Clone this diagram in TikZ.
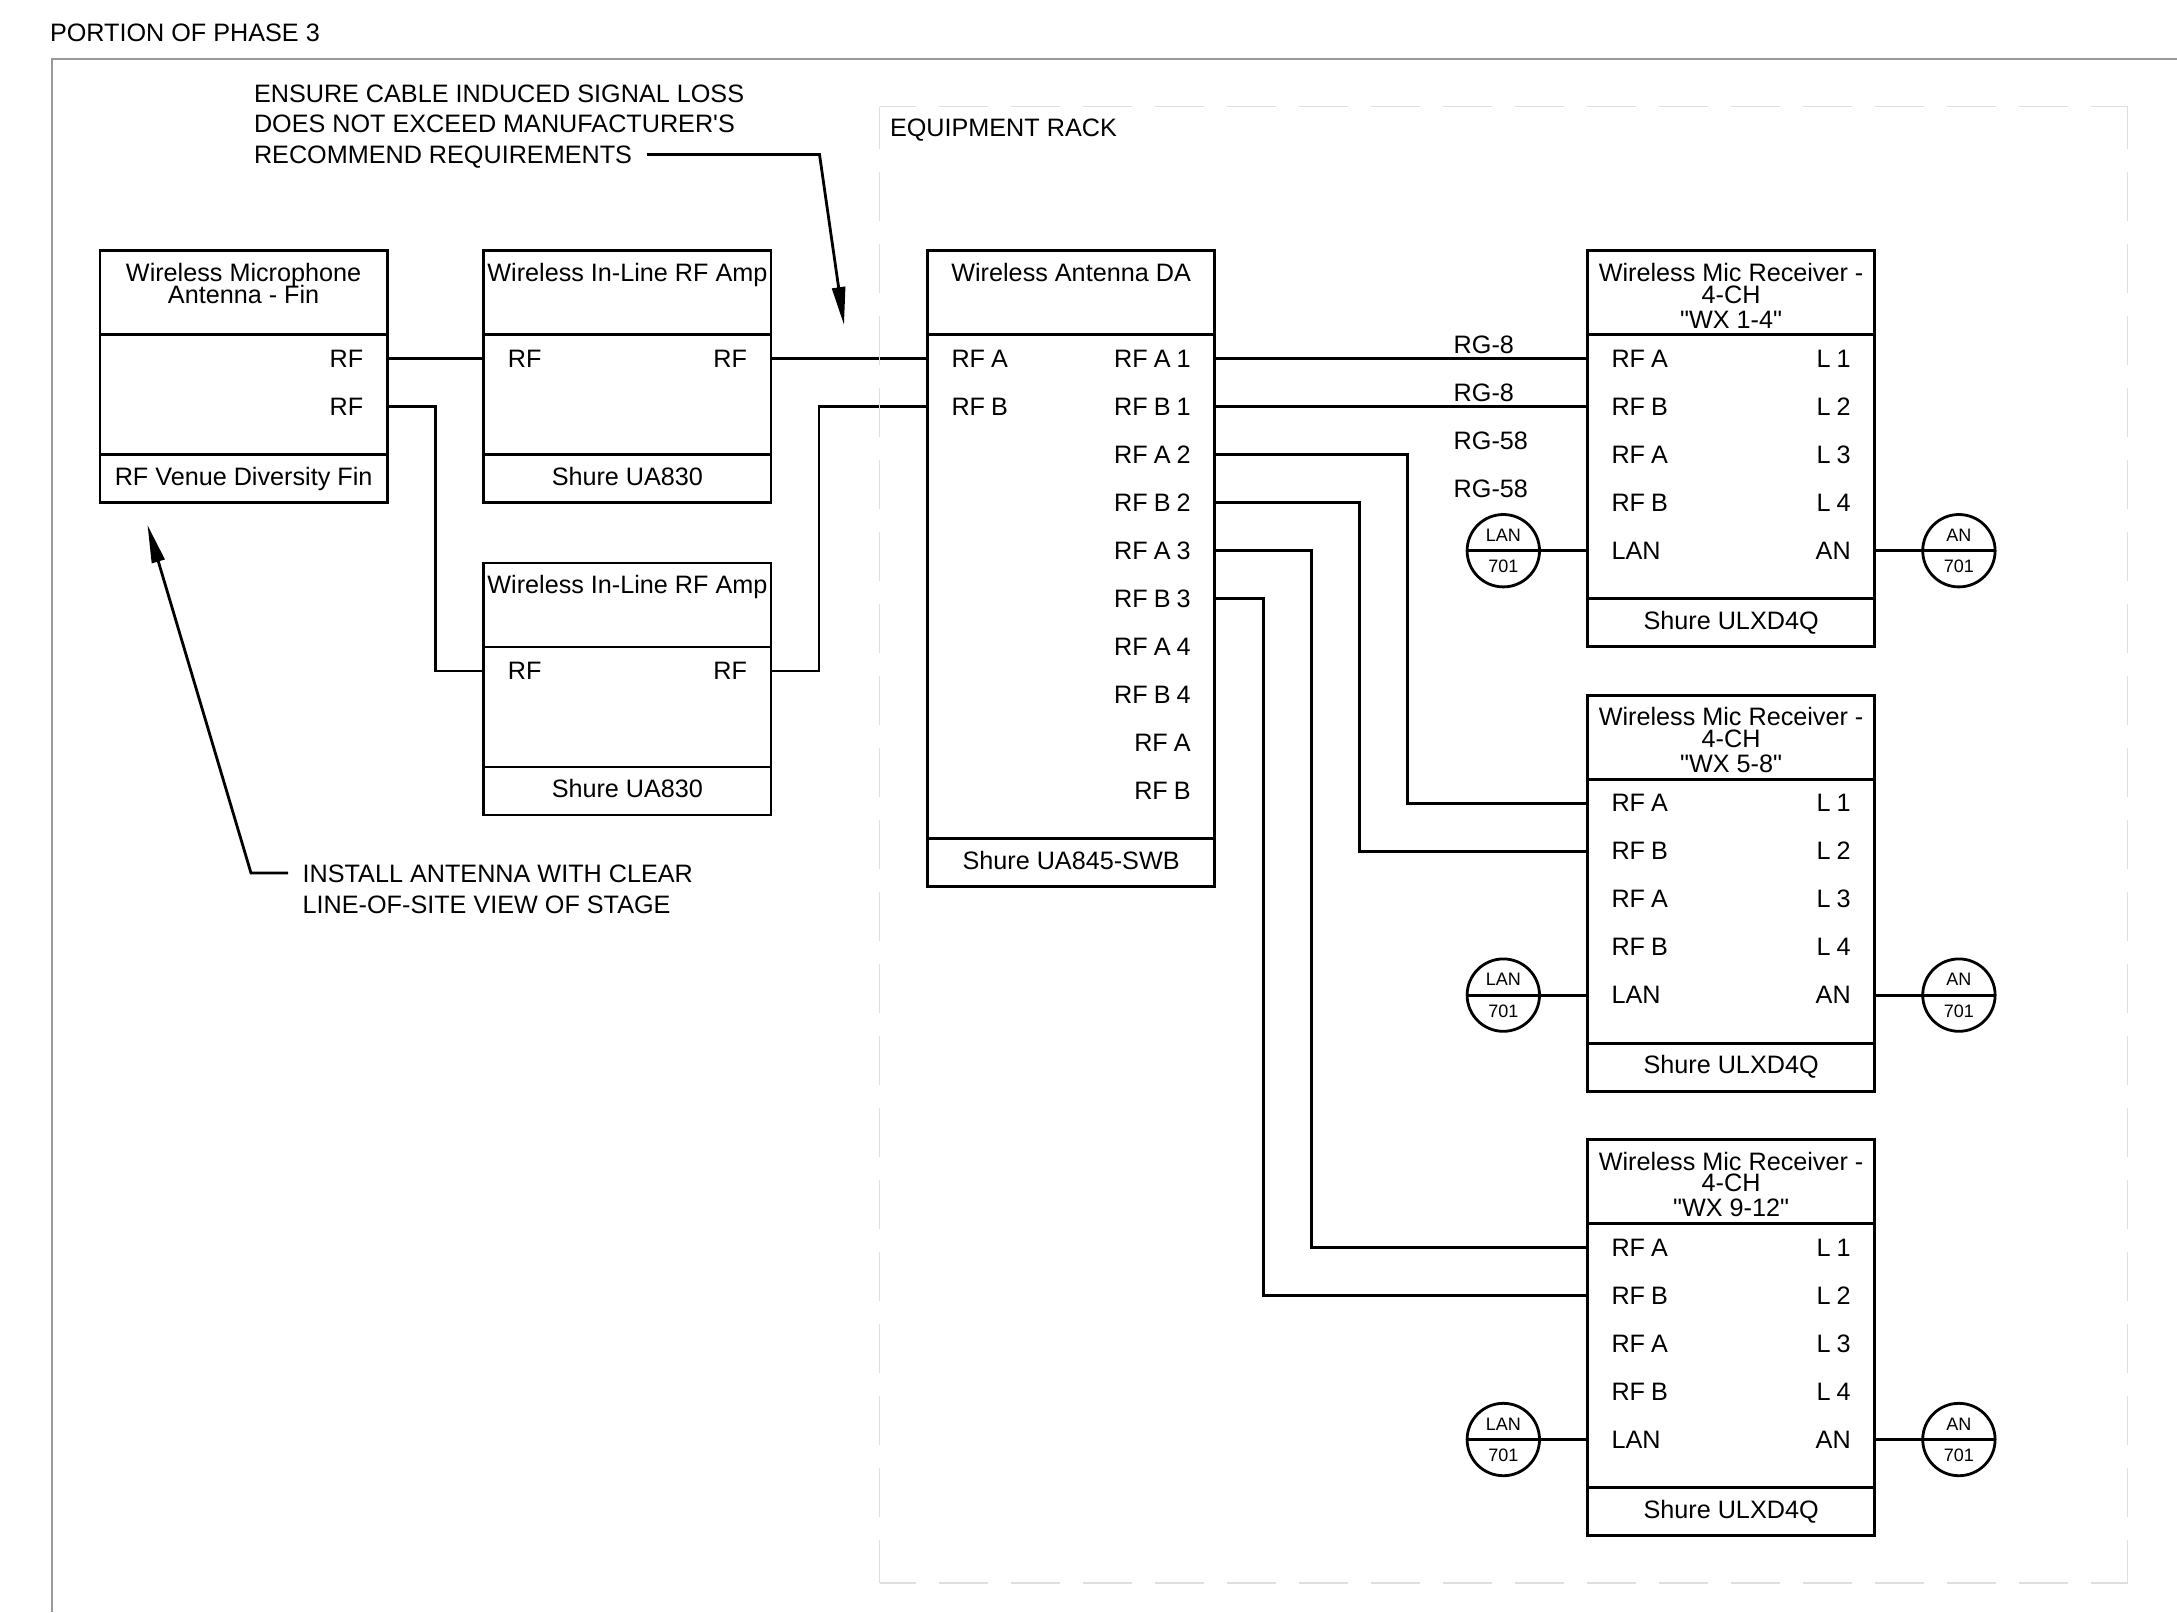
\documentclass[tikz,border=0pt]{standalone}
\usepackage{fontspec}
\newfontfamily\wiringfont{Liberation Sans}
\usetikzlibrary{arrows.meta, positioning}

\begin{document}
\begin{tikzpicture}[x=0.5pt, y=-0.5pt, node distance=0pt,
    font=\wiringfont\fontsize{12.6pt}{10.85pt}\selectfont,
    box/.style={rectangle, draw, line width=1.4pt, minimum width=143.6pt, inner sep=0pt, outer sep=0pt},
    headbox/.style={box, minimum height=42pt},
    bodybox/.style={box, minimum height=#1},
    footbox/.style={box, minimum height=24pt, text height=9.5pt, text depth=2.7pt},
    title/.style={inner sep=0pt, outer sep=0pt, align=center, execute at begin node={\lineskiplimit=-100pt}},
    portl/.style={inner sep=0pt, outer sep=0pt, minimum height=24pt, text width=60pt, align=left, execute at begin node={\spaceskip=.24em}},
    portr/.style={inner sep=0pt, outer sep=0pt, minimum height=24pt, text width=60pt, align=right, execute at begin node={\spaceskip=.24em}},
    cable/.style={inner sep=0pt, outer sep=0pt, minimum height=24pt, text width=40pt, align=left},
    tagcircle/.style={circle, draw, line width=1.4pt, minimum size=36.2pt, inner sep=0pt, outer sep=0pt},
    tag/.style={inner sep=0pt, font=\wiringfont\fontsize{9pt}{11pt}\selectfont},
    note/.style={inner sep=0pt, outer sep=0pt, align=left, font=\wiringfont\fontsize{12.6pt}{15.35pt}\selectfont},
    wire/.style={line width=1.4pt},
    arrow/.style={line width=1.4pt, -{Triangle[length=19pt, width=6.5pt]}},
    frameline/.style={draw=black!40, line width=1pt},
    rackbox/.style={rectangle, inner sep=0pt, outer sep=0pt, minimum width=624pt, minimum height=738.4pt},
    rackh/.style={draw=black!13, line width=0.9pt, dash pattern=on 24.5pt off 11.5pt, dash phase=6.15pt},
    rackv/.style={draw=black!13, line width=0.9pt, dash pattern=on 24.5pt off 11.5pt, dash phase=3.2pt}]
\useasboundingbox (0,0) rectangle (2177,1612);
\draw [frameline] (52,1612) -- (52,58.6) -- (2177,58.6);
\node (phase) [note, anchor=west] at (50,32.5) {PORTION OF PHASE 3};
\node (rack) [rackbox, anchor=north west] at (879.5,106.5) {};
\node (racklabel) [note, anchor=west] at (890,130.5) {EQUIPMENT RACK};

\node (finhead) [headbox, anchor=north west] at (100,250.7) {};
\node (finbody) [bodybox=60pt, below=of finhead] {};
\node (finfoot) [footbox, below=of finbody] {RF Venue Diversity Fin};
\node (fintitle) [title, below=6.2pt of finhead.north] {Wireless Microphone\\Antenna - Fin};
\node (finrfa) [portr, below left=0pt and 12pt of finbody.north east] {RF};
\node (finrfb) [portr, below=of finrfa] {RF};

\node (ampheada) [headbox, right=48.3pt of finhead] {};
\node (ampbodya) [bodybox=60pt, below=of ampheada] {};
\node (ampfoota) [footbox, below=of ampbodya] {Shure UA830};
\node (amptitlea) [title, below=6.2pt of ampheada.north] {Wireless In-Line RF Amp};
\node (ampina) [portl, below right=0pt and 12pt of ampbodya.north west] {RF};
\node (ampouta) [portr, below left=0pt and 12pt of ampbodya.north east] {RF};

\node (ampheadb) [headbox, below=30.1pt of ampfoota] {};
\node (ampbodyb) [bodybox=60pt, below=of ampheadb] {};
\node (ampfootb) [footbox, below=of ampbodyb] {Shure UA830};
\node (amptitleb) [title, below=6.2pt of ampheadb.north] {Wireless In-Line RF Amp};
\node (ampinb) [portl, below right=0pt and 12pt of ampbodyb.north west] {RF};
\node (ampoutb) [portr, below left=0pt and 12pt of ampbodyb.north east] {RF};

\node (dahead) [headbox, right=78.25pt of ampheada] {};
\node (dabody) [bodybox=252pt, below=of dahead] {};
\node (dafoot) [footbox, below=of dabody] {Shure UA845-SWB};
\node (datitle) [title, below=6.2pt of dahead.north] {Wireless Antenna DA};
\node (dain) [portl, below right=0pt and 12pt of dabody.north west] {RF A};
\node (dainb) [portl, below=of dain] {RF B};
\node (daa) [portr, below left=0pt and 12pt of dabody.north east] {RF A 1};
\node (dab) [portr, below=of daa] {RF B 1};
\node (dac) [portr, below=of dab] {RF A 2};
\node (dad) [portr, below=of dac] {RF B 2};
\node (dae) [portr, below=of dad] {RF A 3};
\node (daf) [portr, below=of dae] {RF B 3};
\node (dag) [portr, below=of daf] {RF A 4};
\node (dah) [portr, below=of dag] {RF B 4};
\node (dai) [portr, below=of dah] {RF A};
\node (daj) [portr, below=of dai] {RF B};

\node (rxheada) [headbox, right=186.4pt of dahead] {};
\node (rxbodya) [bodybox=132pt, below=of rxheada] {};
\node (rxfoota) [footbox, below=of rxbodya] {Shure ULXD4Q};
\node (rxtitlea) [title, below=6.2pt of rxheada.north] {Wireless Mic Receiver -\\4-CH\\[1.65pt]"WX 1-4"};
\node (rxaa) [portl, below right=0pt and 12pt of rxbodya.north west] {RF A};
\node (rxab) [portl, below=of rxaa] {RF B};
\node (rxac) [portl, below=of rxab] {RF A};
\node (rxad) [portl, below=of rxac] {RF B};
\node (rxalan) [portl, below=of rxad] {LAN};
\node (rxal) [portr, below left=0pt and 12pt of rxbodya.north east] {L 1};
\node (rxam) [portr, below=of rxal] {L 2};
\node (rxan) [portr, below=of rxam] {L 3};
\node (rxao) [portr, below=of rxan] {L 4};
\node (rxaan) [portr, below=of rxao] {AN};

\node (rxheadb) [headbox, below=24.2pt of rxfoota] {};
\node (rxbodyb) [bodybox=132pt, below=of rxheadb] {};
\node (rxfootb) [footbox, below=of rxbodyb] {Shure ULXD4Q};
\node (rxtitleb) [title, below=6.2pt of rxheadb.north] {Wireless Mic Receiver -\\4-CH\\[1.65pt]"WX 5-8"};
\node (rxba) [portl, below right=0pt and 12pt of rxbodyb.north west] {RF A};
\node (rxbb) [portl, below=of rxba] {RF B};
\node (rxbc) [portl, below=of rxbb] {RF A};
\node (rxbd) [portl, below=of rxbc] {RF B};
\node (rxblan) [portl, below=of rxbd] {LAN};
\node (rxbl) [portr, below left=0pt and 12pt of rxbodyb.north east] {L 1};
\node (rxbm) [portr, below=of rxbl] {L 2};
\node (rxbn) [portr, below=of rxbm] {L 3};
\node (rxbo) [portr, below=of rxbn] {L 4};
\node (rxban) [portr, below=of rxbo] {AN};

\node (rxheadc) [headbox, below=24.2pt of rxfootb] {};
\node (rxbodyc) [bodybox=132pt, below=of rxheadc] {};
\node (rxfootc) [footbox, below=of rxbodyc] {Shure ULXD4Q};
\node (rxtitlec) [title, below=6.2pt of rxheadc.north] {Wireless Mic Receiver -\\4-CH\\[1.65pt]"WX 9-12"};
\node (rxca) [portl, below right=0pt and 12pt of rxbodyc.north west] {RF A};
\node (rxcb) [portl, below=of rxca] {RF B};
\node (rxcc) [portl, below=of rxcb] {RF A};
\node (rxcd) [portl, below=of rxcc] {RF B};
\node (rxclan) [portl, below=of rxcd] {LAN};
\node (rxcl) [portr, below left=0pt and 12pt of rxbodyc.north east] {L 1};
\node (rxcm) [portr, below=of rxcl] {L 2};
\node (rxcn) [portr, below=of rxcm] {L 3};
\node (rxco) [portr, below=of rxcn] {L 4};
\node (rxcan) [portr, below=of rxco] {AN};

\node (lana) [tagcircle, left=36pt of rxalan] {};
\node (lanb) [tagcircle, left=36pt of rxblan] {};
\node (lanc) [tagcircle, left=36pt of rxclan] {};
\node (ana) [tagcircle, right=36pt of rxaan] {};
\node (anb) [tagcircle, right=36pt of rxban] {};
\node (anc) [tagcircle, right=36pt of rxcan] {};
\node (lanatop) [tag] at ([yshift=7.7pt]lana.center) {LAN};
\node (lanalow) [tag] at ([yshift=-7.9pt]lana.center) {701};
\node (lanbtop) [tag] at ([yshift=7.7pt]lanb.center) {LAN};
\node (lanblow) [tag] at ([yshift=-7.9pt]lanb.center) {701};
\node (lanctop) [tag] at ([yshift=7.7pt]lanc.center) {LAN};
\node (lanclow) [tag] at ([yshift=-7.9pt]lanc.center) {701};
\node (anatop) [tag] at ([yshift=7.7pt]ana.center) {AN};
\node (analow) [tag] at ([yshift=-7.9pt]ana.center) {701};
\node (anbtop) [tag] at ([yshift=7.7pt]anb.center) {AN};
\node (anblow) [tag] at ([yshift=-7.9pt]anb.center) {701};
\node (anctop) [tag] at ([yshift=7.7pt]anc.center) {AN};
\node (anclow) [tag] at ([yshift=-7.9pt]anc.center) {701};

\node (cablea) [cable, anchor=west] at (1453.7,344.5) {RG-8};
\node (cableb) [cable, below=of cablea] {RG-8};
\node (cablec) [cable, below=of cableb] {RG-58};
\node (cabled) [cable, below=of cablec] {RG-58};

\node (lossnote) [note, anchor=north west] at (254,84.5) {ENSURE CABLE INDUCED SIGNAL LOSS\\DOES NOT EXCEED MANUFACTURER'S\\RECOMMEND REQUIREMENTS};
\node (sitenote) [note, anchor=north west] at (302.7,865) {INSTALL ANTENNA WITH CLEAR\\LINE-OF-SITE VIEW OF STAGE};
\coordinate (lossstart) at (647,154.5);
\coordinate (lossbend) at (819.5,154.5);
\coordinate (losstip) at (844,325);
\coordinate (sitestart) at (288,873);
\coordinate (sitebend) at (251,873);
\coordinate (sitetip) at (147.5,525);

\draw [wire] (finbody.east |- finrfa) -- (ampbodya.west |- ampina);
\draw [wire] (finbody.east |- finrfb) -- ++(48.5,0) |- (ampbodyb.west |- ampinb);
\draw [wire] (ampbodya.east |- ampouta) -- (dabody.west |- dain);
\draw [wire] (ampbodyb.east |- ampoutb) -- ++(48,0) |- (dabody.west |- dainb);
\draw [wire] (dabody.east |- daa) -- (rxbodya.west |- rxaa);
\draw [wire] (dabody.east |- dab) -- (rxbodya.west |- rxab);
\draw [wire] (dabody.east |- dac) -- ++(193,0) |- (rxbodyb.west |- rxba);
\draw [wire] (dabody.east |- dad) -- ++(144.5,0) |- (rxbodyb.west |- rxbb);
\draw [wire] (dabody.east |- dae) -- ++(96.5,0) |- (rxbodyc.west |- rxca);
\draw [wire] (dabody.east |- daf) -- ++(48.5,0) |- (rxbodyc.west |- rxcb);
\draw [wire] (rxbodya.west |- rxalan) -- (lana.west);
\draw [wire] (rxbodyb.west |- rxblan) -- (lanb.west);
\draw [wire] (rxbodyc.west |- rxclan) -- (lanc.west);
\draw [wire] (rxbodya.east |- rxaan) -- (ana.east);
\draw [wire] (rxbodyb.east |- rxban) -- (anb.east);
\draw [wire] (rxbodyc.east |- rxcan) -- (anc.east);
\draw [arrow] (lossstart) -- (lossbend) -- (losstip);
\draw [arrow] (sitestart) -- (sitebend) -- (sitetip);
\draw [rackh] (rack.north west) -- (rack.north east);
\draw [rackh] (rack.south west) -- (rack.south east);
\draw [rackv] (rack.north west) -- (rack.south west);
\draw [rackv] (rack.north east) -- (rack.south east);
\end{tikzpicture}
\end{document}
